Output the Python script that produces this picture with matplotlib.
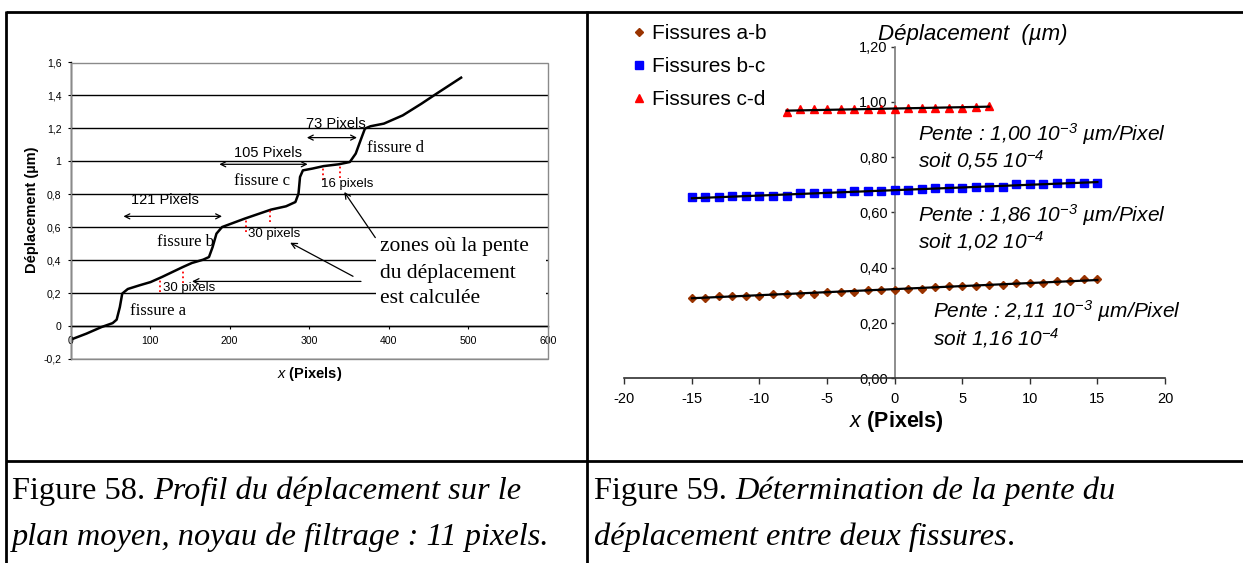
import numpy as np
import matplotlib
matplotlib.use('Agg')
import matplotlib.pyplot as plt
from matplotlib.lines import Line2D
from matplotlib.patches import Rectangle

plt.rcParams['font.family'] = ['Liberation Sans', 'DejaVu Sans']
plt.rcParams['mathtext.fontset'] = 'custom'
plt.rcParams['mathtext.rm'] = 'Liberation Sans:italic'
plt.rcParams['mathtext.it'] = 'Liberation Sans:italic'
plt.rcParams['mathtext.bf'] = 'Liberation Sans:bold'

W, H, DPI = 1243, 563, 100

# ---------------- Data: Figure 58 (displacement profile) ----------------
profile_x = [0, 20, 39, 53, 58, 62, 65, 72, 86.5, 100.6, 115, 141, 152.6, 166.7, 174,
             178.6, 183.4, 190.4, 218.8, 252, 270.8, 282.6, 286.5, 288.4, 292, 304, 318,
             337, 351, 358.4, 364.5, 370, 377, 393.8, 417.5, 441, 460, 490.8]
profile_y = [-0.083, -0.046, -0.006, 0.018, 0.039, 0.115, 0.197, 0.225, 0.247, 0.267, 0.298,
             0.358, 0.383, 0.403, 0.419, 0.48, 0.561, 0.601, 0.652, 0.707, 0.727, 0.753,
             0.804, 0.905, 0.945, 0.956, 0.971, 0.982, 0.996, 1.047, 1.128, 1.199, 1.213,
             1.229, 1.279, 1.35, 1.411, 1.508]
left_xticks = [0, 100, 200, 300, 400, 500, 600]
left_yticks = [-0.2, 0, 0.2, 0.4, 0.6, 0.8, 1.0, 1.2, 1.4, 1.6]
left_yticklabels = ["-0,2", "0", "0,2", "0,4", "0,6", "0,8", "1", "1,2", "1,4", "1,6"]

# ---------------- Data: Figure 59 (slopes between cracks) ----------------
ab_x = list(range(-15, 16))
ab_y = [0.292, 0.292, 0.299, 0.299, 0.299, 0.299, 0.306, 0.306, 0.306, 0.306, 0.312,
        0.312, 0.312, 0.318, 0.318, 0.318, 0.324, 0.324, 0.332, 0.334, 0.334, 0.334,
        0.338, 0.338, 0.345, 0.345, 0.345, 0.351, 0.351, 0.358, 0.358]
bc_x = list(range(-15, 16))
bc_y = [0.655, 0.655, 0.655, 0.661, 0.661, 0.661, 0.661, 0.661, 0.669, 0.669, 0.669,
        0.669, 0.676, 0.676, 0.676, 0.682, 0.682, 0.684, 0.688, 0.688, 0.688, 0.694,
        0.694, 0.694, 0.702, 0.702, 0.702, 0.708, 0.708, 0.708, 0.708]
cd_x = list(range(-8, 8))
cd_y = [0.965, 0.973, 0.973, 0.973, 0.973, 0.973, 0.973, 0.973, 0.973, 0.979, 0.979,
        0.979, 0.979, 0.979, 0.983, 0.986]
series_labels = ["Fissures a-b", "Fissures b-c", "Fissures c-d"]
right_xticks = [-20, -15, -10, -5, 0, 5, 10, 15, 20]
right_yticks = [0, 0.2, 0.4, 0.6, 0.8, 1.0, 1.2]
right_yticklabels = ["0,00", "0,20", "0,40", "0,60", "0,80", "1,00", "1,20"]

fig = plt.figure(figsize=(W / DPI, H / DPI), dpi=DPI)
fig.patch.set_facecolor('white')


def fax(l, t, r, b):
    return fig.add_axes([l / W, 1 - b / H, (r - l) / W, (b - t) / H])


# ======================= Left chart =======================
ax = fax(70.5, 62.5, 548, 359)
ax.set_xlim(0, 600)
ax.set_ylim(-0.2, 1.6)
for s in ['top', 'right']:
    ax.spines[s].set_visible(False)
ax.spines['bottom'].set_position(('data', 0))
ax.spines['bottom'].set_color('black')
ax.spines['left'].set_color('black')
ax.spines['bottom'].set_linewidth(1.0)
ax.spines['left'].set_linewidth(1.0)
ax.add_patch(Rectangle((0, 0), 1, 1, transform=ax.transAxes, fill=False,
                       edgecolor='#8a8a8a', lw=1.0, zorder=6, clip_on=False))
ax.set_axisbelow(True)
ax.yaxis.grid(True, color='black', lw=1.0)
ax.set_xticks(left_xticks)
ax.set_xticklabels([str(v) for v in left_xticks])
ax.set_yticks(left_yticks)
ax.set_yticklabels(left_yticklabels)
ax.tick_params(axis='both', labelsize=7.6, direction='out', length=2.5, width=0.8, pad=5)
ax.tick_params(axis='y', pad=4)

ax.plot(profile_x, profile_y, color='black', lw=1.8, zorder=3)

# white area behind the big comment text
ax.add_patch(Rectangle((384, 0.03), 213, 0.53, facecolor='white', edgecolor='none', zorder=1.5))

ax.text(-0.081, 0.5025, "Déplacement (µm)", rotation=90, transform=ax.transAxes,
        ha='center', va='center', fontsize=10.5, fontweight='bold')
ax.text(0.5016, -0.052, r"$\mathit{x}$ (Pixels)", transform=ax.transAxes,
        ha='center', va='center', fontsize=10.5, fontweight='bold')

serif = 'Liberation Serif'
ax.text(75, 0.09, "fissure a", family=serif, fontsize=12, va='center', ha='left')
ax.text(109, 0.51, "fissure b", family=serif, fontsize=12, va='center', ha='left')
ax.text(205, 0.878, "fissure c", family=serif, fontsize=12, va='center', ha='left')
ax.text(372, 1.08, "fissure d", family=serif, fontsize=12, va='center', ha='left')

ax.text(118.5, 0.763, "121 Pixels", fontsize=10.5, ha='center', va='center')
ax.text(248, 1.053, "105 Pixels", fontsize=10.5, ha='center', va='center')
ax.text(333, 1.229, "73 Pixels", fontsize=10.5, ha='center', va='center')
ap2 = dict(arrowstyle='<->', color='black', lw=0.9, mutation_scale=9, shrinkA=0, shrinkB=0)
ax.annotate('', xy=(66.5, 0.666), xytext=(190.4, 0.666), arrowprops=ap2)
ax.annotate('', xy=(187, 0.982), xytext=(298, 0.982), arrowprops=ap2)
ax.annotate('', xy=(297, 1.144), xytext=(360, 1.144), arrowprops=ap2)

for (xx, y0, y1) in [(112.4, 0.206, 0.288), (141.7, 0.261, 0.342), (221, 0.571, 0.652),
                     (251, 0.632, 0.707), (317, 0.885, 0.971), (338.5, 0.901, 0.986)]:
    ax.plot([xx, xx], [y0, y1], color='red', ls=':', lw=1.3, zorder=3)

ax.text(116, 0.233, "30 pixels", fontsize=9.5, ha='left', va='center', zorder=4)
ax.text(223, 0.561, "30 pixels", fontsize=9.5, ha='left', va='center', zorder=4)
ax.text(315, 0.865, "16 pixels", fontsize=9.5, ha='left', va='center', zorder=4)

ax.text(389, 0.48, "zones où la pente", family=serif, fontsize=15.5, ha='left', va='center', zorder=4)
ax.text(389, 0.322, "du déplacement", family=serif, fontsize=15.5, ha='left', va='center', zorder=4)
ax.text(389, 0.17, "est calculée", family=serif, fontsize=15.5, ha='left', va='center', zorder=4)

ap1 = dict(arrowstyle='->', color='black', lw=0.9, mutation_scale=10, shrinkA=0, shrinkB=0)
ax.annotate('', xy=(152.7, 0.271), xytext=(365, 0.271), arrowprops=ap1, zorder=4)
ax.annotate('', xy=(276, 0.506), xytext=(355, 0.302), arrowprops=ap1, zorder=4)
ax.annotate('', xy=(344, 0.814), xytext=(383, 0.537), arrowprops=ap1, zorder=4)

# ======================= Right chart =======================
ax2 = fax(624.3, 46.7, 1165, 378.3)
ax2.set_xlim(-20, 20)
ax2.set_ylim(0, 1.2)
for s in ['top', 'right']:
    ax2.spines[s].set_visible(False)
ax2.spines['left'].set_position(('data', 0))
ax2.spines['bottom'].set_position(('data', 0))
ax2.spines['left'].set_color('#7a7a7a')
ax2.spines['bottom'].set_color('#303030')
ax2.spines['left'].set_linewidth(1.2)
ax2.spines['bottom'].set_linewidth(1.2)
ax2.set_xticks(right_xticks)
ax2.set_xticklabels([str(v) for v in right_xticks])
ax2.set_yticks(right_yticks)
ax2.set_yticklabels(right_yticklabels)
ax2.tick_params(axis='x', labelsize=10.5, direction='out', length=4, width=1, pad=6, color='#303030')
ax2.tick_params(axis='y', labelsize=10.5, direction='out', length=3, width=1, pad=2, color='#303030')
ax2.patch.set_alpha(0)

h1, = ax2.plot(ab_x, ab_y, ls='None', marker='D', ms=4.2, color='#993300', label=series_labels[0], zorder=3)
h2, = ax2.plot(bc_x, bc_y, ls='None', marker='s', ms=5.5, color='#0000ff', label=series_labels[1], zorder=3)
h3, = ax2.plot(cd_x, cd_y, ls='None', marker='^', ms=6, color='#ff0000', label=series_labels[2], zorder=3)
for xs, ys in [(ab_x, ab_y), (bc_x, bc_y), (cd_x, cd_y)]:
    c = np.polyfit(xs, ys, 1)
    xe = np.array([min(xs), max(xs)])
    ax2.plot(xe, np.polyval(c, xe), color='black', lw=1.6, zorder=4)

fig.legend(handles=[h1, h2, h3], loc='upper left', bbox_to_anchor=(630.7 / W, 1 - 24 / H),
           frameon=False, fontsize=15, borderpad=0, borderaxespad=0, handlelength=0.8,
           handletextpad=0.2, labelspacing=0.68)

ax2.text(0.645, 1.038, "Déplacement  (µm)", transform=ax2.transAxes, ha='center',
         va='center', fontsize=16, style='italic')
ax2.text(0.5025, -0.13, r"$\mathit{x}$ (Pixels)", transform=ax2.transAxes, ha='center',
         va='center', fontsize=15.5, fontweight='bold')

ann_kw = dict(fontsize=15, style='italic', ha='left', va='center_baseline')
ax2.text(1.72, 0.894, r"Pente : 1,00 10$^{-3}$ µm/Pixel", **ann_kw)
ax2.text(1.72, 0.797, r"soit 0,55 10$^{-4}$", **ann_kw)
ax2.text(1.72, 0.601, r"Pente : 1,86 10$^{-3}$ µm/Pixel", **ann_kw)
ax2.text(1.72, 0.505, r"soit 1,02 10$^{-4}$", **ann_kw)
ax2.text(2.83, 0.254, r"Pente : 2,11 10$^{-3}$ µm/Pixel", **ann_kw)
ax2.text(2.83, 0.154, r"soit 1,16 10$^{-4}$", **ann_kw)

# ======================= Table frame =======================
lk = dict(color='black', lw=2.0, transform=fig.transFigure, solid_capstyle='butt')
fig.add_artist(Line2D([6 / W, 1], [1 - 12 / H] * 2, **lk))
fig.add_artist(Line2D([6 / W, 1], [1 - 461 / H] * 2, **lk))
fig.add_artist(Line2D([6 / W] * 2, [1 - 11 / H, 0], **lk))
fig.add_artist(Line2D([587 / W] * 2, [1 - 11 / H, 0], **lk))

# ======================= Captions =======================
renderer = fig.canvas.get_renderer()
cap_size = 23.3


def mixed(x_px, y_px, parts):
    x = x_px
    for s, st in parts:
        t = fig.text(x / W, 1 - y_px / H, s, fontsize=cap_size, family=serif, style=st,
                     ha='left', va='baseline')
        x += t.get_window_extent(renderer).width


mixed(12, 499, [("Figure 58. ", 'normal'), ("Profil du déplacement sur le", 'italic')])
mixed(12, 545, [("plan moyen, noyau de filtrage : 11 pixels.", 'italic')])
mixed(594, 499, [("Figure 59. ", 'normal'), ("Détermination de la pente du", 'italic')])
mixed(594, 545, [("déplacement entre deux fissures", 'italic'), (".", 'normal')])

fig.savefig('out.png', dpi=DPI, facecolor='white')
